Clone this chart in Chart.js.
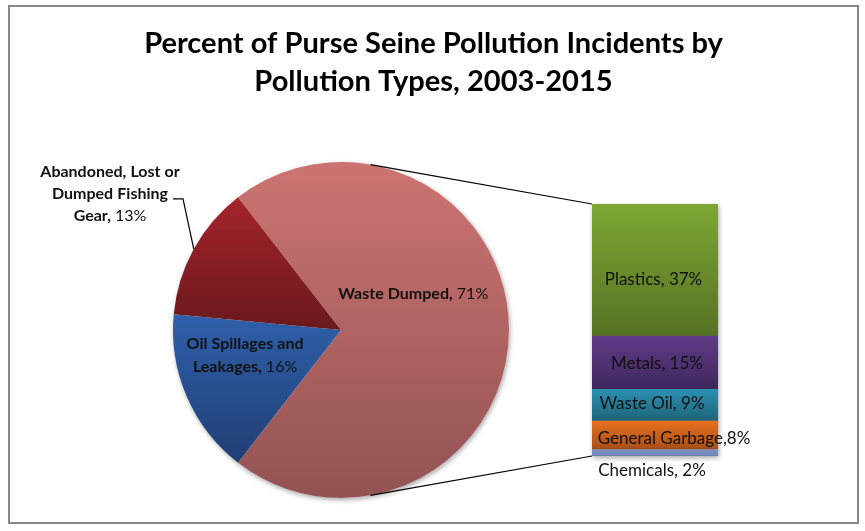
<!DOCTYPE html>
<html>
<head>
<meta charset="utf-8">
<script src="https://cdn.jsdelivr.net/npm/chart.js@4.4.1/dist/chart.umd.min.js"></script>
<style>
  html, body { margin: 0; padding: 0; background: #fff; }
  #wrap { position: relative; width: 865px; height: 531px; overflow: hidden; background: #fff; }
  #frame { position: absolute; left: 8px; top: 5px; width: 847px; height: 515px; border: 2px solid #878787; }
  canvas { position: absolute; left: 0; top: 0; }
</style>
</head>
<body>
<div id="wrap">
  <div id="frame"></div>
  <canvas id="pie" width="865" height="531"></canvas>
  <canvas id="bar" width="865" height="531"></canvas>
</div>
<script>
// data
const titleLines = ['Percent of Purse Seine Pollution Incidents by', 'Pollution Types, 2003-2015'];
const pieLabels = ['Waste Dumped', 'Oil Spillages and Leakages', 'Abandoned, Lost or Dumped Fishing Gear'];
const pieValues = [71, 16, 13];
const barLabels = ['Plastics', 'Metals', 'Waste Oil', 'General Garbage', 'Chemicals'];
const barValues = [37, 15, 9, 8, 2];

// colours (top, bottom of each gradient)
const pieColors = [['#cc7472', '#935353'], ['#2e60aa', '#203e75'], ['#a4242b', '#6a191d']];
const barColors = [['#7ea733', '#557224'], ['#5f3b88', '#40275d'], ['#2b92b3', '#1e6479'], ['#e9711f', '#a64f19'], ['#8498ca', '#6b7fb0']];

const FONT = 'Lato, "Open Sans", sans-serif';
const TEXT = '#111';

// the "other" slice (Waste Dumped) is centred on the right, like Excel's bar of pie
const pieRotation = 90 - pieValues[0] * 360 / 100 / 2;

function sum(arr) { return arr.reduce((a, b) => a + b, 0); }

// fill gradient for each pie slice, over the slice's own height
function pieFill(context) {
  const chart = context.chart;
  const area = chart.chartArea;
  const c = pieColors[context.dataIndex];
  if (!area) return c[0];
  const cx = (area.left + area.right) / 2, cy = (area.top + area.bottom) / 2;
  const r = Math.min(area.right - area.left, area.bottom - area.top) / 2;
  const total = sum(pieValues);
  let a0 = (pieRotation - 90) * Math.PI / 180;
  for (let k = 0; k < context.dataIndex; k++) a0 += pieValues[k] / total * 2 * Math.PI;
  const a1 = a0 + pieValues[context.dataIndex] / total * 2 * Math.PI;
  const ys = [cy, cy + r * Math.sin(a0), cy + r * Math.sin(a1)];
  [-Math.PI / 2, Math.PI / 2].forEach(function (ext) {
    for (let n = -2; n <= 2; n++) {
      const e = ext + 2 * Math.PI * n;
      if (e >= a0 && e <= a1) ys.push(cy + r * Math.sin(e));
    }
  });
  const g = chart.ctx.createLinearGradient(0, Math.min(...ys), 0, Math.max(...ys));
  g.addColorStop(0, c[0]);
  g.addColorStop(1, c[1]);
  return g;
}

// fill gradient for each bar segment
function barFill(context) {
  const chart = context.chart;
  const i = context.datasetIndex;
  const y = chart.scales.y;
  if (!chart.chartArea || !y) return barColors[i][0];
  let s = 0;
  for (let k = 0; k < i; k++) s += barValues[k];
  const g = chart.ctx.createLinearGradient(0, y.getPixelForValue(s), 0, y.getPixelForValue(s + barValues[i]));
  g.addColorStop(0, barColors[i][0]);
  g.addColorStop(1, barColors[i][1]);
  return g;
}

// word wrap, name in bold and value in regular
function richLines(ctx, name, value, size, maxW) {
  const words = (name + ',').split(' ').map(function (t) { return { t: t, b: true }; });
  words.push({ t: value + '%', b: false });
  const w = function (wd) { ctx.font = (wd.b ? 'bold ' : '') + size + 'px ' + FONT; return ctx.measureText(wd.t).width; };
  ctx.font = size + 'px ' + FONT;
  const space = ctx.measureText(' ').width;
  let lines = [], cur = [], curW = 0;
  words.forEach(function (wd) {
    const ww = w(wd);
    if (cur.length && curW + space + ww > maxW) {
      lines.push({ words: cur, width: curW });
      cur = []; curW = 0;
    }
    curW += (cur.length ? space : 0) + ww;
    cur.push(wd);
  });
  lines.push({ words: cur, width: curW });
  return { lines: lines, space: space, w: w };
}

function drawRich(ctx, block, cx, cy, lineH, size) {
  const n = block.lines.length;
  ctx.textBaseline = 'middle';
  ctx.textAlign = 'left';
  ctx.fillStyle = TEXT;
  block.lines.forEach(function (ln, li) {
    let x = cx - ln.width / 2;
    const y = cy + (li - (n - 1) / 2) * lineH;
    ln.words.forEach(function (wd) {
      ctx.font = (wd.b ? 'bold ' : '') + size + 'px ' + FONT;
      ctx.fillText(wd.t, x, y);
      x += block.w(wd) + block.space;
    });
  });
}

const piePlugin = {
  id: 'pieExtras',
  beforeDatasetsDraw(chart) {
    const arc = chart.getDatasetMeta(0).data[0];
    const ctx = chart.ctx;
    ctx.save();
    ctx.shadowColor = 'rgba(0,0,0,0.35)';
    ctx.shadowBlur = 5;
    ctx.shadowOffsetX = 1;
    ctx.shadowOffsetY = 2;
    ctx.beginPath();
    ctx.arc(arc.x, arc.y, arc.outerRadius, 0, Math.PI * 2);
    ctx.fillStyle = '#fff';
    ctx.fill();
    ctx.restore();
  },
  afterDraw(chart) {
    const ctx = chart.ctx;
    const arcs = chart.getDatasetMeta(0).data;
    const cx = arcs[0].x, cy = arcs[0].y, r = arcs[0].outerRadius;
    ctx.save();

    // title
    ctx.fillStyle = '#000';
    ctx.textAlign = 'center';
    ctx.textBaseline = 'alphabetic';
    let ts = 30;
    ctx.font = 'bold ' + ts + 'px ' + FONT;
    ts = ts * 579 / ctx.measureText(titleLines[0]).width;
    ctx.font = 'bold ' + ts.toFixed(2) + 'px ' + FONT;
    ctx.fillText(titleLines[0], 433.5, 53);
    ctx.fillText(titleLines[1], 433.5, 91);

    // label places, as fractions of the radius
    const place = [[0.43, -0.214, 220, 23], [-0.571, 0.152, 130, 23], [-1.375, -0.81, 145, 22]];
    const size = 16;
    pieLabels.forEach(function (name, i) {
      const p = place[i];
      const block = richLines(ctx, name, pieValues[i], size, p[2]);
      drawRich(ctx, block, cx + p[0] * r, cy + p[1] * r, p[3], size);
    });

    // leader line for the outside label
    const a = arcs[2];
    const mid = (a.startAngle + a.endAngle) / 2;
    const lx = cx - 1.375 * r, ly = cy - 0.81 * r + 5;
    ctx.beginPath();
    ctx.moveTo(a.x + r * Math.cos(mid), a.y + r * Math.sin(mid));
    ctx.lineTo(lx + 73, ly);
    ctx.lineTo(lx + 63, ly);
    ctx.strokeStyle = '#000';
    ctx.lineWidth = 1.2;
    ctx.stroke();
    ctx.restore();
  }
};

const pieChart = new Chart(document.getElementById('pie'), {
  type: 'pie',
  data: {
    labels: pieLabels,
    datasets: [{ data: pieValues, backgroundColor: pieFill, borderWidth: 0 }]
  },
  options: {
    responsive: false,
    animation: false,
    rotation: pieRotation,
    layout: { padding: { left: 173, right: 356, top: 162, bottom: 33 } },
    plugins: { legend: { display: false }, tooltip: { enabled: false } }
  },
  plugins: [piePlugin]
});

const barPlugin = {
  id: 'barExtras',
  beforeDatasetsDraw(chart) {
    const ctx = chart.ctx, area = chart.chartArea;
    ctx.save();
    ctx.shadowColor = 'rgba(0,0,0,0.35)';
    ctx.shadowBlur = 5;
    ctx.shadowOffsetX = 1;
    ctx.shadowOffsetY = 2;
    ctx.fillStyle = '#fff';
    ctx.fillRect(area.left, area.top, area.right - area.left, area.bottom - area.top);
    ctx.restore();
  },
  afterDraw(chart) {
    const ctx = chart.ctx, area = chart.chartArea;
    ctx.save();

    // lines from the bar corners, tangent to the pie
    const arc = pieChart.getDatasetMeta(0).data[0];
    const pcx = arc.x, pcy = arc.y, r = arc.outerRadius;
    [[area.left, area.top, -1], [area.left, area.bottom, 1]].forEach(function (c) {
      const dx = c[0] - pcx, dy = c[1] - pcy;
      const d = Math.sqrt(dx * dx + dy * dy);
      const t = Math.atan2(dy, dx) + c[2] * Math.acos(r / d);
      ctx.beginPath();
      ctx.moveTo(pcx + r * Math.cos(t), pcy + r * Math.sin(t));
      ctx.lineTo(c[0], c[1]);
      ctx.strokeStyle = '#000';
      ctx.lineWidth = 1.2;
      ctx.stroke();
    });

    // segment labels
    const nudge = [[-1.5, 9.5], [2, 1.5], [-3, -1.5], [19, 3.5], [-3, 0]];
    const size = 17;
    ctx.font = size + 'px ' + FONT;
    ctx.fillStyle = TEXT;
    ctx.textAlign = 'center';
    ctx.textBaseline = 'middle';
    barLabels.forEach(function (name, i) {
      const el = chart.getDatasetMeta(i).data[0];
      const sep = name === 'General Garbage' ? ',' : ', ';
      let y = (el.y + el.base) / 2 + nudge[i][1];
      if (Math.abs(el.base - el.y) < size) y = Math.max(el.y, el.base) + 15;
      ctx.fillText(name + sep + barValues[i] + '%', el.x + nudge[i][0], y);
    });
    ctx.restore();
  }
};

new Chart(document.getElementById('bar'), {
  type: 'bar',
  data: {
    labels: [''],
    datasets: barLabels.map(function (name, i) {
      return {
        label: name,
        data: [barValues[i]],
        backgroundColor: barFill,
        borderWidth: 0,
        barPercentage: 1,
        categoryPercentage: 1
      };
    })
  },
  options: {
    responsive: false,
    animation: false,
    layout: { padding: { left: 592, right: 147, top: 204, bottom: 75 } },
    scales: {
      x: { stacked: true, display: false },
      y: { stacked: true, display: false, reverse: true, min: 0, max: sum(barValues) }
    },
    plugins: { legend: { display: false }, tooltip: { enabled: false } }
  },
  plugins: [barPlugin]
});
</script>
</body>
</html>
